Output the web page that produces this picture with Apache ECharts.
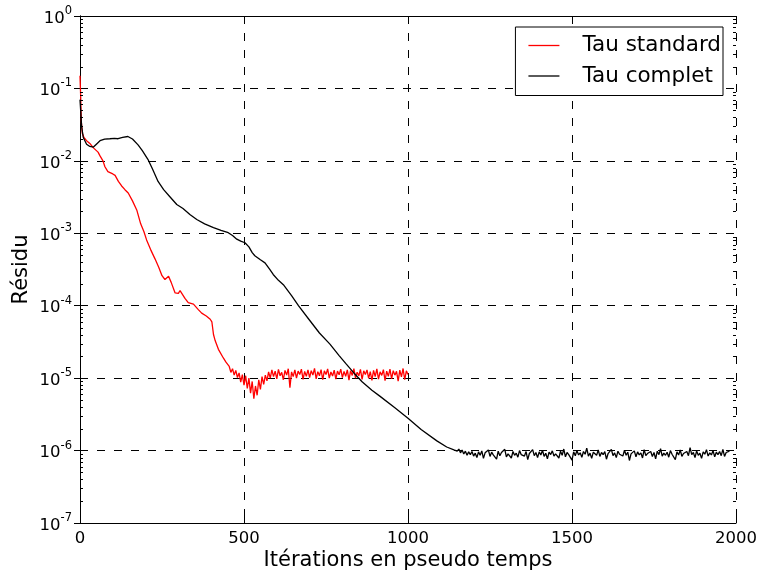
<!DOCTYPE html>
<html>
<head>
<meta charset="utf-8">
<script src="https://cdn.jsdelivr.net/npm/echarts@6/dist/echarts.min.js"></script>
<style>html,body{margin:0;padding:0;background:#fff}#c{width:763px;height:576px}</style>
</head>
<body>
<div id="c"></div>
<script>
// ---- Data ----
const seriesNames = ['Tau standard', 'Tau complet'];
const xTickValues = [0, 500, 1000, 1500, 2000];
const yTickExponents = [0, -1, -2, -3, -4, -5, -6, -7];

// Tau standard, smooth part: iterations and residuals
const stdIter = [0, 2, 4, 7, 12, 20, 30, 41, 55, 61, 70, 76, 85, 91, 100, 107, 117, 127, 137, 147, 152, 160, 173, 185, 195, 203, 215, 229, 240, 250, 259, 265, 270, 278, 290, 300, 305, 310, 320, 330, 346, 360, 371, 385, 397, 402, 407, 412, 422, 437, 445, 450];
const stdRes = [1.5e-1, 7.9e-2, 3.5e-2, 2.4e-2, 2.1e-2, 1.9e-2, 1.74e-2, 1.51e-2, 1.32e-2, 1.17e-2, 1.0e-2, 8.3e-3, 7.1e-3, 6.8e-3, 6.6e-3, 6.3e-3, 5.2e-3, 4.5e-3, 4.0e-3, 3.6e-3, 3.5e-3, 2.8e-3, 2.1e-3, 1.35e-3, 1.05e-3, 8.1e-4, 6.0e-4, 4.4e-4, 3.4e-4, 2.6e-4, 2.3e-4, 2.45e-4, 2.55e-4, 2.1e-4, 1.5e-4, 1.48e-4, 1.62e-4, 1.58e-4, 1.26e-4, 1.1e-4, 1.05e-4, 8.9e-5, 7.9e-5, 7.2e-5, 6.5e-5, 6.0e-5, 4.0e-5, 3.3e-5, 2.5e-5, 1.9e-5, 1.66e-5, 1.6e-5];
// Tau standard, noisy plateau: from iteration 455 to 1000 every 5 iterations (units of 1e-5)
const stdNoiseStart = 455, noiseStep = 5;
const stdNoise = [1.45, 1.20, 1.35, 1.10, 1.28, 1.02, 1.18, 0.88, 1.12, 0.80, 1.08, 0.72, 1.00, 0.62, 0.90, 0.52, 0.78, 0.58, 0.95, 0.70, 1.05, 0.82, 1.10, 0.92, 1.22, 1.00, 1.30, 1.05, 1.25, 0.98, 1.32, 1.08, 1.20, 0.95, 1.28, 1.10, 1.35, 0.74, 1.22, 1.05, 1.30, 1.00, 1.25, 1.12, 1.33, 0.96, 1.24, 1.06, 1.30, 1.02, 1.27, 1.10, 1.36, 0.98, 1.23, 1.08, 1.31, 0.95, 1.26, 1.12, 1.34, 1.00, 1.22, 1.07, 1.29, 0.97, 1.25, 1.11, 1.33, 1.02, 1.24, 1.06, 1.30, 0.94, 1.27, 1.09, 1.35, 1.00, 1.21, 1.08, 1.32, 0.96, 1.26, 1.12, 1.30, 0.99, 1.23, 0.93, 1.28, 1.05, 1.34, 0.97, 1.22, 1.09, 1.31, 0.92, 1.25, 1.06, 1.33, 0.98, 1.27, 1.10, 1.24, 0.91, 1.29, 1.04, 1.36, 0.95, 1.26, 1.12];

// Tau complet, smooth part
const cplIter = [0, 2, 5, 10, 20, 30, 41, 50, 61, 75, 91, 105, 116, 130, 146, 160, 177, 190, 207, 220, 238, 255, 274, 295, 314, 335, 356, 380, 407, 430, 452, 465, 478, 490, 503, 515, 525, 533, 550, 564, 578, 589, 605, 620, 645, 666, 700, 730, 762, 790, 810, 835, 860, 890, 915, 960, 1000, 1040, 1088, 1118, 1140];
const cplRes = [7.0e-2, 5.0e-2, 3.0e-2, 2.1e-2, 1.7e-2, 1.58e-2, 1.55e-2, 1.7e-2, 1.9e-2, 2.0e-2, 2.02e-2, 2.04e-2, 2.02e-2, 2.11e-2, 2.17e-2, 2.0e-2, 1.66e-2, 1.38e-2, 1.05e-2, 7.9e-3, 5.2e-3, 4.0e-3, 3.2e-3, 2.5e-3, 2.2e-3, 1.82e-3, 1.55e-3, 1.35e-3, 1.2e-3, 1.1e-3, 1.02e-3, 9.3e-4, 8.3e-4, 7.8e-4, 7.4e-4, 6.5e-4, 5.4e-4, 4.9e-4, 4.3e-4, 3.9e-4, 3.2e-4, 2.7e-4, 2.24e-4, 1.95e-4, 1.38e-4, 1.0e-4, 6.3e-5, 4.2e-5, 2.95e-5, 2.05e-5, 1.6e-5, 1.18e-5, 8.9e-6, 6.8e-6, 5.6e-6, 3.9e-6, 2.8e-6, 1.95e-6, 1.36e-6, 1.12e-6, 1.02e-6];
// Tau complet, noisy plateau: from iteration 1145 to 2000 every 5 iterations (units of 1e-6)
const cplNoiseStart = 1145;
const cplNoise = [1.08, 0.98, 1.05, 0.93, 1.02, 0.90, 0.98, 0.86, 0.96, 0.88, 0.97, 0.84,
  0.92, 0.80, 0.96, 0.86, 0.99, 0.78, 0.93, 0.88, 1.02, 0.83, 0.95, 0.87, 0.91, 0.76, 0.98, 0.85, 0.94, 0.89, 1.04, 0.82,
  0.90, 0.95, 0.79, 0.97, 0.86, 0.92, 0.81, 1.00, 0.88, 0.93, 0.84, 0.97, 0.75, 0.91, 0.89, 1.03, 0.85, 0.94, 0.80, 0.96,
  0.87, 1.01, 0.83, 0.92, 0.77, 0.95, 0.88, 0.99, 0.84, 0.90, 0.93, 0.79, 0.98, 0.86, 1.05, 0.82, 0.94, 0.88, 0.91, 0.74,
  0.96, 0.85, 1.00, 0.87, 0.93, 0.81, 0.97, 0.89, 1.08, 0.84, 0.92, 0.78, 0.95, 0.90, 0.86, 1.02, 0.83, 0.94, 0.88, 0.97,
  0.76, 0.91, 0.87, 1.04, 0.85, 0.93, 0.80, 0.98, 0.89, 0.92, 0.84, 1.01, 0.86, 0.95, 0.73, 0.90, 0.88, 0.99, 0.82, 0.96,
  0.87, 0.93, 0.79, 1.03, 0.85, 0.91, 0.90, 0.97, 0.83, 0.94, 0.77, 0.98, 0.88, 1.06, 0.84, 0.92, 0.86, 0.95, 0.81, 1.00,
  0.89, 0.93, 0.75, 0.96, 0.87, 1.02, 0.83, 0.91, 0.90, 0.97, 0.85, 1.10, 0.88, 0.94, 0.80, 0.99, 0.86, 0.92, 0.78, 0.96,
  0.89, 1.03, 0.84, 0.93, 0.87, 1.00, 0.82, 0.95, 0.88, 0.97, 0.85, 1.04, 0.83, 0.94, 0.90, 0.98];

// minor tick mantissas for the log axis
const minorMantissas = [2, 3, 4, 5, 6, 7, 8, 9];

// ---- Build series data ----
const stdData = stdIter.map((it, i) => [it, stdRes[i]]);
stdNoise.forEach((v, i) => stdData.push([stdNoiseStart + i * noiseStep, v * 1e-5]));
const cplData = cplIter.map((it, i) => [it, cplRes[i]]);
cplNoise.forEach((v, i) => cplData.push([cplNoiseStart + i * noiseStep, v * 1e-6]));

const minorData = [];
yTickExponents.forEach(e => { if (e < 0) minorMantissas.forEach(m => minorData.push([0, m * Math.pow(10, e)])); });

const FONT = 'DejaVu Sans';
const gridDash = { color: '#000', width: 1, type: [8, 9] };

const chart = echarts.init(document.getElementById('c'), null, { renderer: 'canvas' });
chart.setOption({
  animation: false,
  backgroundColor: '#fff',
  grid: { left: 80, right: 27, top: 16, bottom: 52, containLabel: false },
  legend: {
    data: seriesNames,
    orient: 'vertical',
    right: 40, top: 27,
    backgroundColor: '#fff',
    borderColor: '#000', borderWidth: 1, borderRadius: 0,
    padding: [7.5, 2, 8.5, 13],
    icon: 'rect',
    itemWidth: 31, itemHeight: 1.3, itemGap: 8.5,
    formatter: name => '{sp| }{t|' + name + '}',
    textStyle: {
      fontFamily: FONT, fontSize: 21.5, lineHeight: 19, color: '#000',
      rich: {
        sp: { width: 18, fontSize: 21.5, lineHeight: 19 },
        t: { fontFamily: FONT, fontSize: 21.5, lineHeight: 19, color: '#000' }
      }
    }
  },
  xAxis: [{
    type: 'value', min: 0, max: 2000, interval: 500,
    name: 'Itérations en pseudo temps', nameLocation: 'middle', nameGap: 27, nameMoveOverlap: false,
    nameTextStyle: { fontFamily: FONT, fontSize: 21, color: '#000' },
    axisLine: { show: true, lineStyle: { color: '#000', width: 1 } },
    axisTick: { show: true, inside: true, length: 6, lineStyle: { color: '#000' } },
    axisLabel: { fontFamily: FONT, fontSize: 16.5, color: '#000', margin: 7, formatter: v => String(v) },
    splitLine: { show: true, lineStyle: gridDash }
  }, {
    type: 'value', min: 0, max: 2000, interval: 500, position: 'top',
    axisLine: { show: true, lineStyle: { color: '#000', width: 1 } },
    axisTick: { show: true, inside: true, length: 6, lineStyle: { color: '#000' } },
    axisLabel: { show: false }, splitLine: { show: false }
  }],
  yAxis: [{
    type: 'log', logBase: 10, min: 1e-7, max: 1, interval: 1,
    name: 'Résidu', nameLocation: 'middle', nameGap: 48, nameRotate: 90, nameMoveOverlap: false,
    nameTextStyle: { fontFamily: FONT, fontSize: 21, color: '#000' },
    axisLine: { show: true, lineStyle: { color: '#000', width: 1 } },
    axisTick: { show: true, inside: true, length: 6, lineStyle: { color: '#000' } },
    axisLabel: {
      margin: 8,
      formatter: v => '{b|10}{s|' + Math.round(Math.log10(v)) + '}',
      rich: {
        b: { fontFamily: FONT, fontSize: 16.5, color: '#000', lineHeight: 22, verticalAlign: 'bottom' },
        s: { fontFamily: FONT, fontSize: 11.5, color: '#000', lineHeight: 22, verticalAlign: 'top' }
      }
    },
    splitLine: { show: true, lineStyle: gridDash }
  }, {
    type: 'log', logBase: 10, min: 1e-7, max: 1, interval: 1, position: 'right',
    axisLine: { show: true, lineStyle: { color: '#000', width: 1 } },
    axisTick: { show: true, inside: true, length: 6, lineStyle: { color: '#000' } },
    axisLabel: { show: false }, splitLine: { show: false }
  }],
  series: [{
    name: seriesNames[0], type: 'line', data: stdData, showSymbol: false, symbol: 'none',
    lineStyle: { color: '#ff0000', width: 1.3 }, itemStyle: { color: '#ff0000' }, z: 3
  }, {
    name: seriesNames[1], type: 'line', data: cplData, showSymbol: false, symbol: 'none',
    lineStyle: { color: '#000000', width: 1.3 }, itemStyle: { color: '#000000' }, z: 4
  }, {
    type: 'custom', data: minorData, silent: true, clip: false, z: 5,
    encode: { x: 0, y: 1 },
    renderItem: function (params, api) {
      const v = api.value(1);
      const pL = api.coord([0, v]);
      const pR = api.coord([2000, v]);
      const y = Math.round(pL[1]) + 0.5;
      return {
        type: 'group', children: [
          { type: 'line', shape: { x1: pL[0], y1: y, x2: pL[0] + 3, y2: y }, style: { stroke: '#000', lineWidth: 1 } },
          { type: 'line', shape: { x1: pR[0] - 3, y1: y, x2: pR[0], y2: y }, style: { stroke: '#000', lineWidth: 1 } }
        ]
      };
    }
  }]
});
</script>
</body>
</html>
